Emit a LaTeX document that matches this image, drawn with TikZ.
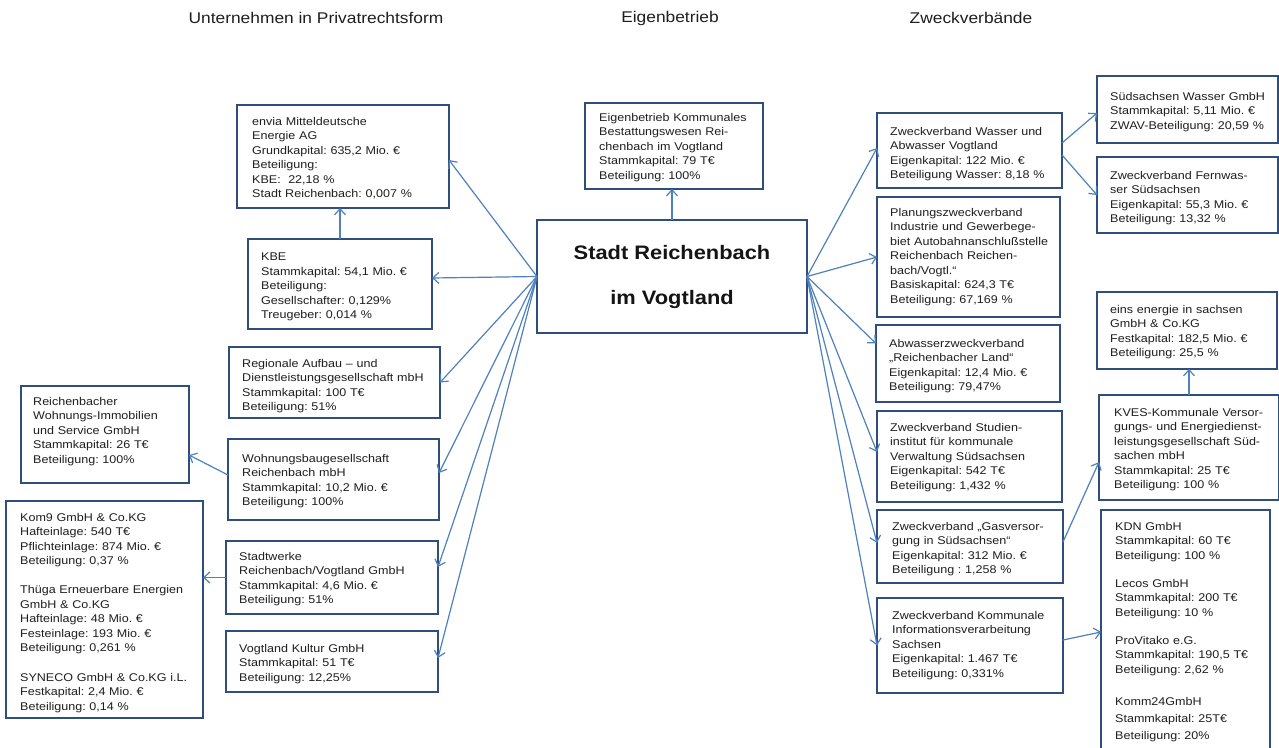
\documentclass[tikz,border=0pt]{standalone}
\usepackage{fontspec}
\setmainfont{Liberation Sans}
\newfontfamily\bxf[FakeStretch=1.12]{Liberation Sans}
\usetikzlibrary{arrows.meta}
\definecolor{boxblue}{HTML}{2F4D7D}
\definecolor{arrowblue}{HTML}{4F81BD}
\tikzset{
  box/.style={draw=boxblue, line width=2.6pt, rectangle, inner sep=0pt, outer sep=0pt, fill=white},
  txt/.style={anchor=north west, inner sep=0pt, align=left, text width=300pt,
    font=\bxf\fontsize{11.2}{14.5}\selectfont\frenchspacing, text=black!88},
  ttl/.style={inner sep=0pt, font=\bxf\fontsize{15.5}{18}\selectfont, text=black!88},
  arr/.style={draw=arrowblue, line width=1.2pt, -{Straight Barb[length=6pt,width=11pt]}}
}
\newcommand\bx[8]{%
  \node[box, minimum width={(#4-#2)*1pt}, minimum height={(#5-#3)*1pt}] (#1) at ({(#2+#4)/2},{(#3+#5)/2}) {};
  \node[txt] (#1-t) at (#6,#7-4) {#8};}
\begin{document}
\begin{tikzpicture}[x=1pt,y=-1pt]
\useasboundingbox (0,0) rectangle (1279,747);
\clip (0,0) rectangle (1279,747);
\fill[white] (0,0) rectangle (1279,747);

% titles
\node[ttl] (t1) at (316,18) {Unternehmen in Privatrechtsform};
\node[ttl] (t2) at (670,18) {Eigenbetrieb};
\node[ttl] (t3) at (971,18) {Zweckverbände};

% centre
\node[box, minimum width=270pt, minimum height=113pt, align=center,
  font=\bxf\bfseries\fontsize{19.5}{45}\selectfont, text=black!92] (stadt) at (672,276.5)
  {Stadt Reichenbach\\im Vogtland};
\bx{eigen}{585}{103}{763}{189}{599}{117}{Eigenbetrieb Kommunales\\Bestattungswesen Rei-\\chenbach im Vogtland\\Stammkapital: 79 T€\\Beteiligung: 100\%}

% left
\bx{envia}{237}{105}{449}{208}{252}{121}{envia Mitteldeutsche\\Energie AG\\Grundkapital: 635,2 Mio. €\\Beteiligung:\\KBE:~ 22,18 \%\\Stadt Reichenbach: 0,007 \%}
\bx{kbe}{248}{239}{432}{329}{261}{257}{KBE\\Stammkapital: 54,1 Mio. €\\Beteiligung:\\Gesellschafter: 0,129\%\\Treugeber: 0,014 \%}
\bx{rag}{229}{347}{440}{418}{242}{363}{Regionale Aufbau – und\\Dienstleistungsgesellschaft mbH\\Stammkapital: 100 T€\\Beteiligung: 51\%}
\bx{rwis}{21}{386}{189}{483}{33}{401}{Reichenbacher\\Wohnungs-Immobilien\\und Service GmbH\\Stammkapital: 26 T€\\Beteiligung: 100\%}
\bx{wbg}{228}{439}{439}{520}{242}{458}{Wohnungsbaugesellschaft\\Reichenbach mbH\\Stammkapital: 10,2 Mio. €\\Beteiligung: 100\%}
\bx{kom9}{6}{501}{203}{718}{20}{517}{Kom9 GmbH \& Co.KG\\Hafteinlage: 540 T€\\Pflichteinlage: 874 Mio. €\\Beteiligung: 0,37 \%\\[14.5pt]Thüga Erneuerbare Energien\\GmbH \& Co.KG\\Hafteinlage: 48 Mio. €\\Festeinlage: 193 Mio. €\\Beteiligung: 0,261 \%\\[15pt]SYNECO GmbH \& Co.KG i.L.\\Festkapital: 2,4 Mio. €\\Beteiligung: 0,14 \%}
\bx{sw}{226}{541}{438}{614}{239}{556}{Stadtwerke\\Reichenbach/Vogtland GmbH\\Stammkapital: 4,6 Mio. €\\Beteiligung: 51\%}
\bx{vk}{226}{631}{438}{692}{239}{648}{Vogtland Kultur GmbH\\Stammkapital: 51 T€\\Beteiligung: 12,25\%}

% right
\bx{zwav}{877}{113}{1062}{188}{890}{131}{Zweckverband Wasser und\\Abwasser Vogtland\\Eigenkapital: 122 Mio. €\\Beteiligung Wasser: 8,18 \%}
\bx{plan}{877}{197}{1060}{317}{890}{212}{Planungszweckverband\\Industrie und Gewerbege-\\biet Autobahnanschlußstelle\\Reichenbach Reichen-\\bach/Vogtl.“\\Basiskapital: 624,3 T€\\Beteiligung: 67,169 \%}
\bx{sws}{1097}{76}{1278}{143}{1110}{96}{Südsachsen Wasser GmbH\\Stammkapital: 5,11 Mio. €\\ZWAV-Beteiligung: 20,59 \%}
\bx{fw}{1097}{157}{1278}{233}{1110}{175}{Zweckverband Fernwas-\\ser Südsachsen\\Eigenkapital: 55,3 Mio. €\\Beteiligung: 13,32 \%}
\bx{eins}{1097}{292}{1277}{369}{1110}{309}{eins energie in sachsen\\GmbH \& Co.KG\\Festkapital: 182,5 Mio. €\\Beteiligung: 25,5 \%}
\bx{abw}{876}{325}{1060}{402}{889}{343}{Abwasserzweckverband\\„Reichenbacher Land“\\Eigenkapital: 12,4 Mio. €\\Beteiligung: 79,47\%}
\bx{stud}{877}{411}{1062}{502}{890}{427}{Zweckverband Studien-\\institut für kommunale\\Verwaltung Südsachsen\\Eigenkapital: 542 T€\\Beteiligung: 1,432 \%}
\bx{kves}{1099}{395}{1279}{500}{1114}{412}{KVES-Kommunale Versor-\\gungs- und Energiedienst-\\leistungsgesellschaft Süd-\\sachen mbH\\Stammkapital: 25 T€\\Beteiligung: 100 \%}
\bx{gas}{877}{510}{1063}{583}{892}{526}{Zweckverband „Gasversor-\\gung in Südsachsen“\\Eigenkapital: 312 Mio. €\\Beteiligung : 1,258 \%}
\bx{info}{877}{598}{1063}{693}{892}{615}{Zweckverband Kommunale\\Informationsverarbeitung\\Sachsen\\Eigenkapital: 1.467 T€\\Beteiligung: 0,331\%}
\bx{kdn}{1101}{510}{1270}{770}{1115}{526}{KDN GmbH\\Stammkapital: 60 T€\\Beteiligung: 100 \%\\[13.5pt]Lecos GmbH\\Stammkapital: 200 T€\\Beteiligung: 10 \%\\[13.5pt]ProVitako e.G.\\Stammkapital: 190,5 T€\\Beteiligung: 2,62 \%\\[17.5pt]Komm24GmbH\\[2.5pt]Stammkapital: 25T€\\[2.5pt]Beteiligung: 20\%}

% fan left
\draw[arr] (stadt.west) -- ([yshift=-3.5pt]envia.east);
\draw[arr] (stadt.west) -- ([yshift=6pt]kbe.east);
\draw[arr] (stadt.west) -- (rag.east);
\draw[arr] (stadt.west) -- ([yshift=6.5pt]wbg.east);
\draw[arr] (stadt.west) -- ([yshift=10.5pt]sw.east);
\draw[arr] (stadt.west) -- ([yshift=3.5pt]vk.east);
% fan right
\draw[arr] (stadt.east) -- ([yshift=2.5pt]zwav.west);
\draw[arr] (stadt.east) -- (plan.west);
\draw[arr] (stadt.east) -- ([yshift=20pt]abw.west);
\draw[arr] (stadt.east) -- ([yshift=4.5pt]stud.west);
\draw[arr] (stadt.east) -- ([yshift=3.5pt]gas.west);
\draw[arr] (stadt.east) -- (info.west);
% secondary
\draw[arr] (stadt.north) -- (stadt.north |- eigen.south);
\draw[arr] (kbe.north) -- (kbe.north |- envia.south);
\draw[arr] ([yshift=4.5pt]wbg.west) -- ([yshift=-20.5pt]rwis.east);
\draw[arr] (sw.west) -- (sw.west -| kom9.east);
\draw[arr] ([yshift=7.5pt]zwav.east) -- ([yshift=-3.5pt]sws.west);
\draw[arr] ([yshift=-4.5pt]zwav.east) -- (fw.west);
\draw[arr] ([yshift=4.5pt]gas.east) -- ([yshift=-14.5pt]kves.west);
\draw[arr] (kves.north) -- (kves.north |- eins.south);
\draw[arr] ([yshift=5.5pt]info.east) -- ([yshift=8pt]kdn.west);
\end{tikzpicture}
\end{document}
